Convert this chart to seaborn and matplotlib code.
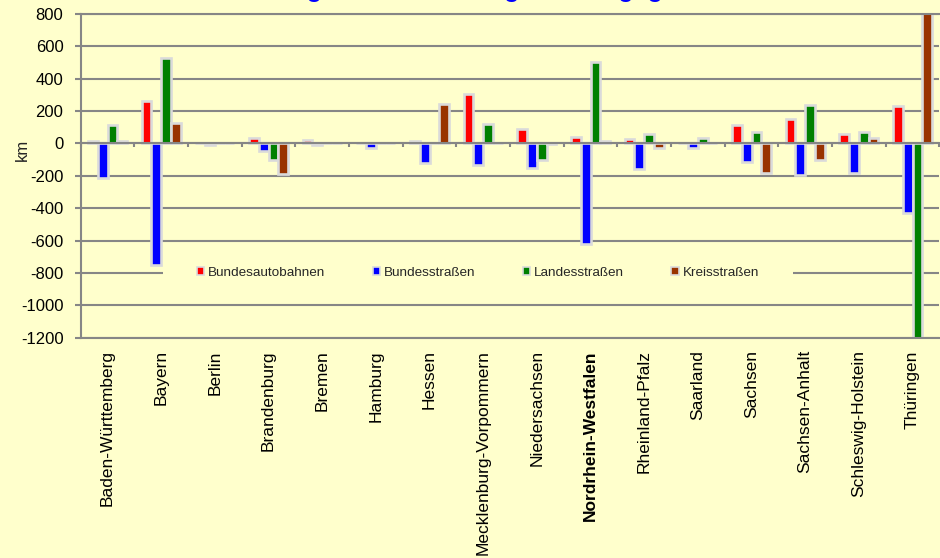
import numpy as np
import pandas as pd
import matplotlib
matplotlib.use("Agg")
import matplotlib.pyplot as plt
import matplotlib.transforms as mtransforms
from matplotlib.patches import Patch, Rectangle
import seaborn as sns

sns.set_style("white")
plt.rcParams['font.family'] = ['Liberation Sans', 'DejaVu Sans']
plt.rcParams['axes.unicode_minus'] = False

# data (km)
laender = ["Baden-Württemberg", "Bayern", "Berlin", "Brandenburg", "Bremen", "Hamburg",
           "Hessen", "Mecklenburg-Vorpommern", "Niedersachsen", "Nordrhein-Westfalen",
           "Rheinland-Pfalz", "Saarland", "Sachsen", "Sachsen-Anhalt",
           "Schleswig-Holstein", "Thüringen"]
klassen = ["Bundesautobahnen", "Bundesstraßen", "Landesstraßen", "Kreisstraßen"]
bundesautobahnen = [15, 262, 3, 35, 22, 0, 17, 305, 90, 38, 28, 3, 112, 150, 58, 230]
bundesstrassen = [-215, -750, -10, -45, -8, -30, -122, -135, -150, -620, -160, -25, -112, -195, -182, -428]
landesstrassen = [113, 527, 0, -105, 0, 0, 2, 120, -105, 503, 58, 33, 70, 235, 68, -1300]
kreisstrassen = [15, 127, 0, -190, 0, 0, 243, 0, -3, 15, -28, 3, -185, -105, 32, 850]
farben = ["#ff0000", "#0000ff", "#008000", "#993300"]
titel = "Veränderung der Straßenlängen 2010 gegenüber 2000"

werte = [bundesautobahnen, bundesstrassen, landesstrassen, kreisstrassen]
df = pd.DataFrame({
    "Land": laender * len(klassen),
    "Klasse": [k for k in klassen for _ in laender],
    "km": np.concatenate(werte),
})

bg = "#ffffcc"
grau = "#868686"

fig, ax = plt.subplots(figsize=(9.4, 5.58), dpi=100)
fig.patch.set_facecolor(bg)
ax.set_facecolor(bg)
fig.subplots_adjust(left=0.0859, right=0.9993, top=0.9749, bottom=0.3948)

sns.barplot(data=df, x="Land", y="km", hue="Klasse", hue_order=klassen,
            palette=farben, saturation=1, width=0.73, gap=0, edgecolor="#dadada",
            linewidth=1.9, errorbar=None, legend=False, ax=ax)

ax.set_xlim(-0.5, len(laender) - 0.5)
ax.set_ylim(-1200, 800)
ax.set_yticks(range(-1200, 801, 200))
ax.set_axisbelow(True)
ax.yaxis.grid(True, color=grau, linewidth=1.5)
ax.xaxis.grid(False)

for s in ["left", "bottom", "top"]:
    ax.spines[s].set_color(grau)
    ax.spines[s].set_linewidth(1.5)
ax.spines["right"].set_visible(False)

ax.tick_params(axis="y", left=True, length=4.5, width=1.5, color=grau,
               pad=8, labelsize=12, labelcolor="black")
ax.tick_params(axis="x", bottom=False, length=0, pad=9, labelsize=12.5,
               labelrotation=90, labelcolor="black")
for lbl in ax.get_xticklabels():
    if lbl.get_text() == "Nordrhein-Westfalen":
        lbl.set_fontweight("bold")

ax.set_xlabel("")
ax.set_ylabel("km", fontsize=12)
ax.yaxis.set_label_coords(-0.059, 0.58)

# zero line with ticks at category boundaries
sec = ax.secondary_xaxis((0 - (-1200)) / 2000)
sec.set_alignment("bottom")
sec.set_xticks(np.arange(-0.5, len(laender), 1))
sec.tick_params(direction="out", length=3, width=1.5, color=grau, labelbottom=False)
sec.spines["bottom"].set_color(grau)
sec.spines["bottom"].set_linewidth(1.5)
sec.set_zorder(3)

# legend area hides the gridline behind it
trans = mtransforms.blended_transform_factory(ax.transAxes, ax.transData)
ax.add_patch(Rectangle((0.0959, -900), 0.7337, 200, transform=trans,
                       facecolor=bg, edgecolor="none", zorder=0.8))
handles = [Patch(facecolor=c, edgecolor="#dadada", linewidth=1.2) for c in farben]
ax.legend(handles, klassen, ncol=4, loc="center", bbox_to_anchor=(0.4627, 0.2),
          frameon=False, fontsize=9.7, columnspacing=3.5, handlelength=0.55,
          handleheight=0.55, handletextpad=0.3)

# title sits above the top edge, only its descenders show
fig.text(0.52, 1.0 + 3 / 558, titel, ha="center", va="baseline", fontsize=18,
         fontweight="bold", color="#0000ff")

fig.savefig("out.png", dpi=100, facecolor=bg)
